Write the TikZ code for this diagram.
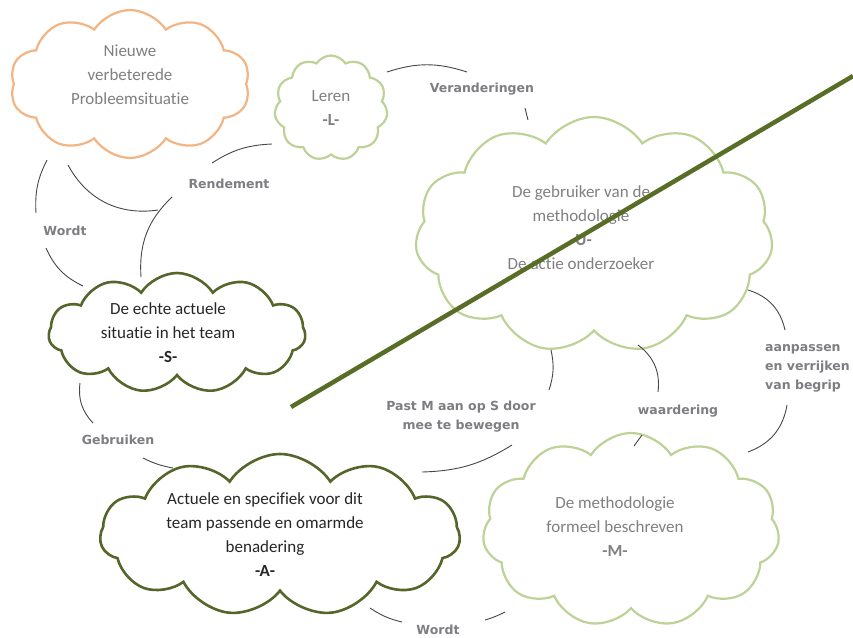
\documentclass[tikz,border=0pt]{standalone}
\usepackage{fontspec}
\setmainfont{Carlito}[Ligatures={NoCommon}]
\newfontfamily\labelfont{DejaVu Sans}
\usetikzlibrary{shapes.symbols}

\definecolor{orangeline}{RGB}{243,180,132}
\definecolor{lightgreen}{RGB}{188,210,150}
\definecolor{darkgreen}{RGB}{84,102,42}
\definecolor{slashgreen}{RGB}{88,110,38}
\definecolor{softtext}{RGB}{128,128,128}
\definecolor{darktext}{RGB}{38,38,38}
\definecolor{lblgray}{RGB}{125,125,130}
\definecolor{conngray}{RGB}{70,70,70}

\tikzset{
  cloudbase/.style={cloud, cloud ignores aspect, cloud puff arc=115, inner sep=0pt, draw, fill=white},
  orangecloud/.style={cloudbase, draw=orangeline, line width=2.2pt},
  lightcloud/.style={cloudbase, draw=lightgreen, line width=2.2pt},
  darkcloud/.style={cloudbase, draw=darkgreen, line width=2.6pt},
  cloudtext/.style={align=center, font=\fontsize{17}{24}\selectfont},
  softcloudtext/.style={cloudtext, text=softtext},
  hardcloudtext/.style={cloudtext, text=darktext},
  lbl/.style={font=\labelfont\bfseries\fontsize{12.5}{19}\selectfont, text=lblgray, align=center, inner sep=1pt},
  conn/.style={draw=conngray, line width=0.9pt},
}

\begin{document}
\begin{tikzpicture}[x=1pt,y=-1pt]
\useasboundingbox (0,0) rectangle (853,637);

% clouds
\node[orangecloud, cloud puffs=10, minimum width=240, minimum height=148] (N) at (130,84) {};
\node[softcloudtext] (Ntext) at (130,75) {Nieuwe\\verbeterede\\Probleemsituatie};

\node[lightcloud, cloud puffs=11, minimum width=113, minimum height=105] (L) at (331,108) {};
\node[softcloudtext] (Ltext) at (331,108) {Leren\\\textbf{-L-}};

\node[lightcloud, cloud puffs=11, minimum width=358, minimum height=236] (U) at (594,235) {};
\node[softcloudtext] (Utext) at (581,228) {De gebruiker van de\\methodologie\\\textbf{-U-}\\De actie onderzoeker};

\node[darkcloud, cloud puffs=11, minimum width=257, minimum height=120] (S) at (177,333) {};
\node[hardcloudtext] (Stext) at (168,333) {De echte actuele\\situatie in het team\\\textbf{-S-}};

\node[darkcloud, cloud puffs=11, minimum width=360, minimum height=162] (A) at (280,535) {};
\node[hardcloudtext] (Atext) at (265,535) {Actuele en specifiek voor dit\\team passende en omarmde\\benadering\\\textbf{-A-}};

\node[lightcloud, cloud puffs=11, minimum width=297, minimum height=194] (M) at (631,530) {};
\node[softcloudtext] (Mtext) at (615,527) {De methodologie\\formeel beschreven\\\textbf{-M-}};

% labels
\node[lbl] (lVer) at (482,89) {Veranderingen};
\node[lbl] (lRen) at (229,184) {Rendement};
\node[lbl] (lWo1) at (65,231) {Wordt};
\node[lbl] (lGeb) at (118,440) {Gebruiken};
\node[lbl] (lWo2) at (438,630) {Wordt};
\node[lbl] (lPas) at (461,417) {Past M aan op S door\\mee te bewegen};
\node[lbl] (lWaa) at (678,411) {waardering};
\node[lbl, anchor=west, align=left] (lAan) at (764,368) {aanpassen\\en verrijken\\van begrip};

% connector end points
\coordinate (v1) at (387,72);  \coordinate (v2) at (467,72);
\coordinate (v3) at (525,108); \coordinate (v4) at (528,120);
\coordinate (r1) at (272,144); \coordinate (r2) at (212,163);
\coordinate (r3) at (172,197); \coordinate (r4) at (141,277);
\coordinate (r5) at (68,165);  \coordinate (r6) at (158,210);
\coordinate (w1) at (47,160);  \coordinate (w2) at (36,213);
\coordinate (w3) at (46,248);  \coordinate (w4) at (83,286);
\coordinate (g1) at (80,383);  \coordinate (g2) at (93,423);
\coordinate (g3) at (143,458); \coordinate (g4) at (173,468);
\coordinate (b1) at (370,608); \coordinate (b2) at (402,622);
\coordinate (b3) at (485,620); \coordinate (b4) at (505,612);
\coordinate (p1) at (551,350); \coordinate (p2) at (549,390);
\coordinate (p3) at (512,445); \coordinate (p4) at (422,472);
\coordinate (q1) at (638,345); \coordinate (q2) at (658,392);
\coordinate (q3) at (642,435); \coordinate (q4) at (634,446);
\coordinate (a1) at (748,290); \coordinate (a2) at (785,330);
\coordinate (a3) at (787,405); \coordinate (a4) at (748,452);

% connectors
\draw[conn] (v1) to[bend left=18] (v2);
\draw[conn] (v3) -- (v4);
\draw[conn] (r1) to[bend right=15] (r2);
\draw[conn] (r3) to[bend right=25] (r4);
\draw[conn] (r5) to[bend right=35] (r6);
\draw[conn] (w1) to[bend right=15] (w2);
\draw[conn] (w3) to[bend right=20] (w4);
\draw[conn] (g1) to[bend right=25] (g2);
\draw[conn] (g3) to[bend right=8] (g4);
\draw[conn] (b1) to[bend right=10] (b2);
\draw[conn] (b3) to[bend right=5] (b4);
\draw[conn] (p1) to[bend left=15] (p2);
\draw[conn] (p3) to[bend left=15] (p4);
\draw[conn] (q1) to[bend left=30] (q2);
\draw[conn] (q3) -- (q4);
\draw[conn] (a1) to[bend left=30] (a2);
\draw[conn] (a3) to[bend left=30] (a4);

% diagonal stroke across the picture
\coordinate (d1) at (291,407);
\coordinate (d2) at (853,76);
\draw[slashgreen, line width=4.5pt] (d1) -- (d2);
\end{tikzpicture}
\end{document}
